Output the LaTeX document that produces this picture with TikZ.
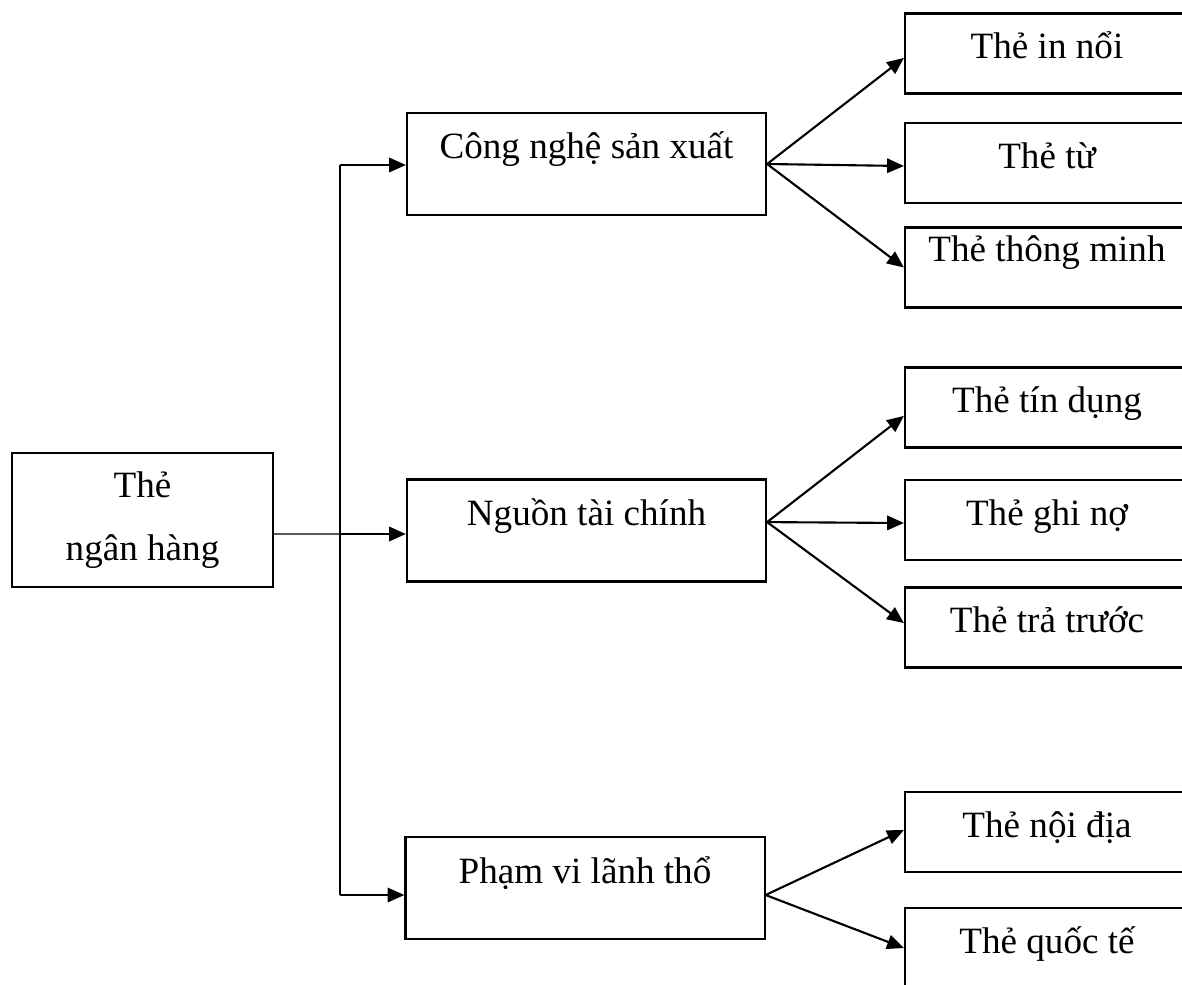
\documentclass[tikz,border=0pt]{standalone}
\usepackage{fontspec}
\setmainfont{Liberation Serif}
\usetikzlibrary{arrows.meta}
\begin{document}
\begin{tikzpicture}[x=0.025cm, y=-0.025cm, font=\fontsize{26.4}{44.8}\selectfont,
  hop/.style={draw, line width=1.5pt, inner sep=0pt},
  goc/.style={hop, minimum width=6.525cm, minimum height=3.35cm, align=center},
  nhanh/.style={hop, minimum width=8.975cm, text height=1.15cm, text depth=1.4cm},
  la/.style={hop, minimum width=7.1cm, text height=1.125cm, text depth=0.875cm},
  mui/.style={line width=1.5pt, -{Triangle[length=0.42cm,width=0.36cm]}}]
\useasboundingbox (0,0) rectangle (1182,985);
\clip (0,0) rectangle (1182,985);
\node[goc] (the) at (142.5,520) {Thẻ\\ngân hàng};
\node[nhanh] (nhanh1) at (586.5,164) {Công nghệ sản xuất};
\node[nhanh] (nhanh2) at (586.5,530.5) {Nguồn tài chính};
\node[nhanh] (nhanh3) at (585,888) {Phạm vi lãnh thổ};
\node[la] (la1) at (1047,53.5) {Thẻ in nổi};
\node[la] (la2) at (1047,163) {Thẻ từ};
\node[la, text height=0.85cm, text depth=1.15cm] (la3) at (1047,267.5) {Thẻ thông minh};
\node[la] (la4) at (1047,407.5) {Thẻ tín dụng};
\node[la] (la5) at (1047,520) {Thẻ ghi nợ};
\node[la] (la6) at (1047,627.5) {Thẻ trả trước};
\node[la] (la7) at (1047,832) {Thẻ nội địa};
\node[la] (la8) at (1047,948) {Thẻ quốc tế};
\coordinate (truc1) at (340,165);
\coordinate (truc2) at (340,534);
\coordinate (truc3) at (340,895);
\coordinate (re1) at (nhanh1.east);
\coordinate (re2) at ([yshift=0.21cm]nhanh2.east);
\coordinate (re3) at ([yshift=-0.175cm]nhanh3.east);
\draw[line width=0.9pt] ([yshift=-0.35cm]the.east) -- (truc2);
\draw[line width=1.3pt] (truc1) -- (truc3);
\foreach \i in {1,2,3}
  \draw[mui] (truc\i) -- (truc\i -| nhanh\i.west);
\foreach \r/\l/\s in {re1/la1/-0.11, re1/la2/-0.075, re1/la3/0, re2/la4/-0.21, re2/la5/-0.075, re2/la6/0.11, re3/la7/0.05, re3/la8/0}
  \draw[mui] (\r) -- ([yshift=\s cm]\l.west);
\end{tikzpicture}
\end{document}
